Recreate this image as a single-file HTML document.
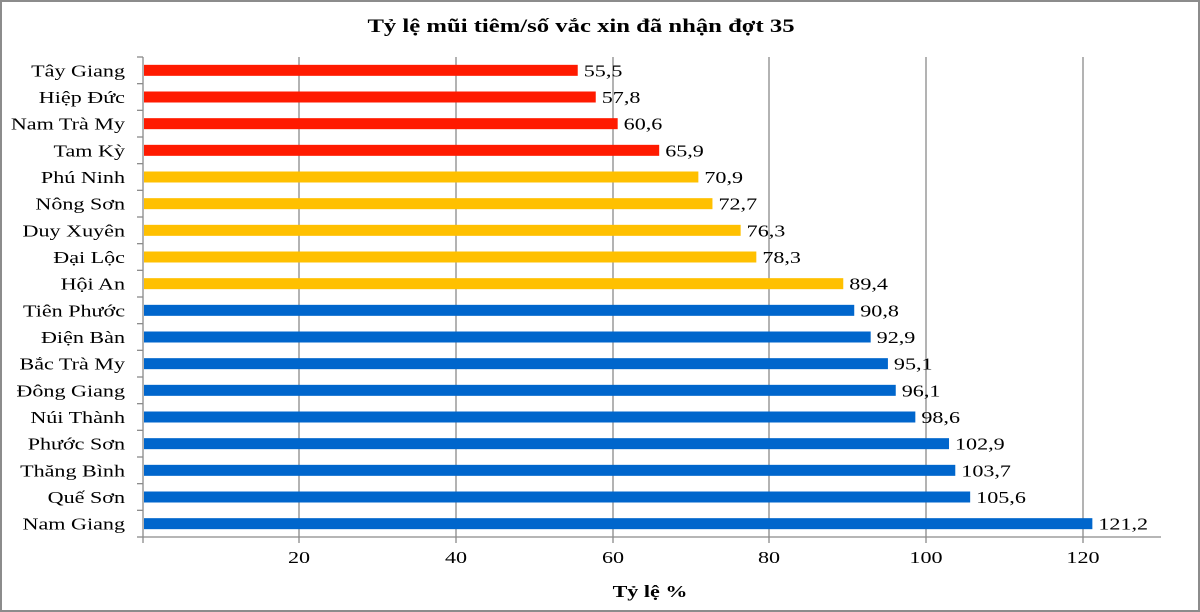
<!DOCTYPE html>
<html><head><meta charset="utf-8"><style>
body{margin:0;background:#fff}
svg{display:block;font-family:"Liberation Serif",serif}
</style></head><body>
<svg width="1200" height="612" viewBox="0 0 1200 612">
<rect x="1" y="1" width="1198" height="610" fill="#fff" stroke="#8c8c8c" stroke-width="2"/>
<text transform="translate(581,32) scale(1.3,1)" text-anchor="middle" font-size="19" font-weight="bold">Tỷ lệ mũi tiêm/số vắc xin đã nhận đợt 35</text>
<g stroke="#8a8a8a" stroke-width="1.3">
<line x1="299" y1="57" x2="299" y2="537"/><line x1="456" y1="57" x2="456" y2="537"/>
<line x1="613" y1="57" x2="613" y2="537"/><line x1="769" y1="57" x2="769" y2="537"/>
<line x1="926" y1="57" x2="926" y2="537"/><line x1="1083" y1="57" x2="1083" y2="537"/>
<line x1="143" y1="57" x2="143" y2="537"/><line x1="143" y1="537" x2="1161" y2="537"/>
</g>
<g id="bars"></g>
<g font-size="17" text-anchor="middle" id="ticks"></g>
<text transform="translate(650,597) scale(1.3,1)" text-anchor="middle" font-size="17" font-weight="bold">Tỷ lệ %</text>
</svg>
<script>
var d=[["Tây Giang",55.5],["Hiệp Đức",57.8],["Nam Trà My",60.6],["Tam Kỳ",65.9],["Phú Ninh",70.9],["Nông Sơn",72.7],["Duy Xuyên",76.3],["Đại Lộc",78.3],["Hội An",89.4],["Tiên Phước",90.8],["Điện Bàn",92.9],["Bắc Trà My",95.1],["Đông Giang",96.1],["Núi Thành",98.6],["Phước Sơn",102.9],["Thăng Bình",103.7],["Quế Sơn",105.6],["Nam Giang",121.2]];
var g=document.getElementById('bars'),s='',k=7.833,h=480/18;
function T(x,y,t,a){return '<text transform="translate('+x+','+y+') scale(1.3,1)" font-size="17"'+(a?' text-anchor="'+a+'"':'')+'>'+t+'</text>';}
for(var i=0;i<=18;i++){var ty=57+i*h;s+='<line x1="137" y1="'+ty+'" x2="143" y2="'+ty+'" stroke="#8a8a8a" stroke-width="1.3"/>';}
s+='<line x1="143" y1="537" x2="143" y2="543" stroke="#8a8a8a" stroke-width="1.3"/>';
var tk='';
[299,456,613,769,926,1083].forEach(function(x,i){s+='<line x1="'+x+'" y1="537" x2="'+x+'" y2="543" stroke="#8a8a8a" stroke-width="1.3"/>';tk+=T(x,563,(i+1)*20,'middle');});
d.forEach(function(r,i){var c=57+(i+0.5)*h,w=r[1]*k,col=i<4?'#ff1a00':i<9?'#ffc000':'#0066cc';
s+='<rect x="144" y="'+(c-5.5)+'" width="'+(w-1)+'" height="11" fill="'+col+'"/>';
s+=T(143+w+6,c+6,String(r[1]).replace('.',','));
s+=T(125,c+6,r[0],'end');});
g.innerHTML=s;
document.getElementById('ticks').innerHTML=tk;
</script>
</body></html>
